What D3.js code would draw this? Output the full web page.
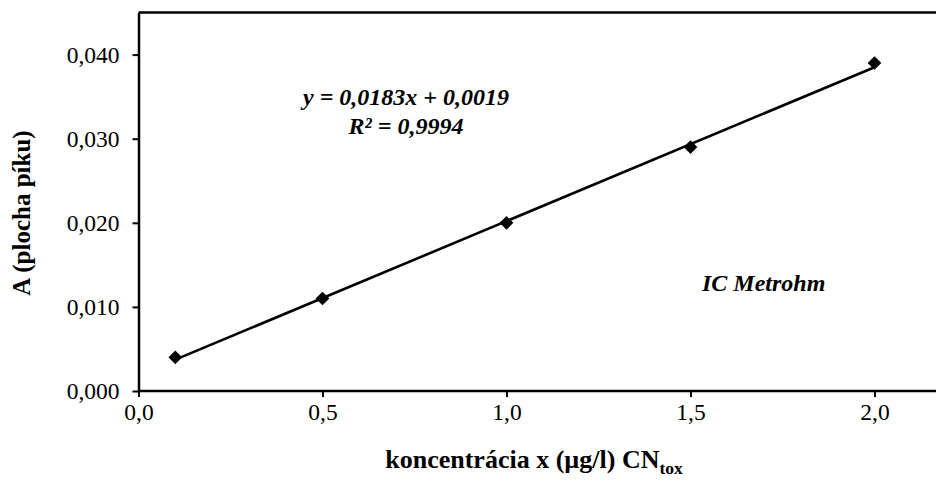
<!DOCTYPE html>
<html>
<head>
<meta charset="utf-8">
<script src="https://cdn.jsdelivr.net/npm/d3@7"></script>
<style>
  body { margin: 0; background: #fff; }
  svg { display: block; font-family: "Liberation Serif", "Times New Roman", serif; }
</style>
</head>
<body>
<div id="chart"></div>
<script>
// measured points (concentration, peak area)
var concentrations = [0.1, 0.5, 1.0, 1.5, 2.0];
var areas = [0.004, 0.011, 0.020, 0.029, 0.039];
// linear fit shown on the chart
var slope = 0.0183, intercept = 0.0019;
var xTicks = [0, 0.5, 1.0, 1.5, 2.0];
var yTicks = [0, 0.01, 0.02, 0.03, 0.04];

var W = 936, H = 485;
var left = 138.5, bottom = 391;

var svg = d3.select("#chart").append("svg")
  .attr("width", W).attr("height", H);

// plot runs past the right edge of the picture (cropped)
var x = d3.scaleLinear().domain([0, 2.5]).range([left, left + 2.5 * 368]);
var y = d3.scaleLinear().domain([0, 0.045]).range([bottom, bottom - 4.5 * 84.1]);

var fmtX = v => d3.format(".1f")(v).replace(".", ",");
var fmtY = v => d3.format(".3f")(v).replace(".", ",");

// frame top line
svg.append("line")
  .attr("x1", left).attr("x2", W)
  .attr("y1", y(0.045)).attr("y2", y(0.045))
  .attr("stroke", "#000").attr("stroke-width", 2.5);

var xAxis = svg.append("g")
  .attr("transform", "translate(0," + y(0) + ")")
  .call(d3.axisBottom(x).tickValues(xTicks).tickFormat(fmtX).tickSizeInner(6).tickSizeOuter(0).tickPadding(6));

var yAxis = svg.append("g")
  .attr("transform", "translate(" + x(0) + ",0)")
  .call(d3.axisLeft(y).tickValues(yTicks).tickFormat(fmtY).tickSizeInner(6).tickSizeOuter(0).tickPadding(13));

[xAxis, yAxis].forEach(function(a) {
  a.select(".domain").attr("stroke-width", 2.5);
  a.selectAll(".tick line").attr("stroke-width", 2);
  a.selectAll(".tick text")
    .style("font-family", "Liberation Serif")
    .style("font-size", "23.5px")
    .attr("fill", "#000");
});
xAxis.select(".domain").attr("d", "M" + x(0) + ",0H" + W);

// trend line
var fitLine = d3.line()
  .x(d => x(d))
  .y(d => y(slope * d + intercept));

svg.append("path")
  .datum([d3.min(concentrations), d3.max(concentrations)])
  .attr("fill", "none")
  .attr("stroke", "#000")
  .attr("stroke-width", 2.6)
  .attr("d", fitLine);

// markers
var diamond = d3.symbol().type(d3.symbolDiamond2).size(120);
svg.selectAll(".pt")
  .data(concentrations)
  .enter().append("path")
  .attr("class", "pt")
  .attr("transform", (d, i) => "translate(" + x(d) + "," + y(areas[i]) + ")")
  .attr("d", diamond)
  .attr("fill", "#000");

// equation
var eq = svg.append("text")
  .attr("text-anchor", "middle")
  .style("font-size", "24px")
  .style("font-weight", "bold")
  .style("font-style", "italic");
eq.append("tspan").attr("x", 406).attr("y", 105).text("y = 0,0183x + 0,0019");
eq.append("tspan").attr("x", 406).attr("y", 134).text("R² = 0,9994");

svg.append("text")
  .attr("x", 702).attr("y", 291)
  .style("font-size", "24px")
  .style("font-weight", "bold")
  .style("font-style", "italic")
  .text("IC Metrohm");

// axis titles
var xt = svg.append("text")
  .attr("x", 534).attr("y", 468)
  .attr("text-anchor", "middle")
  .style("font-size", "26px")
  .style("font-weight", "bold");
xt.append("tspan").text("koncentrácia x (µg/l) CN");
xt.append("tspan").attr("dy", 6).style("font-size", "17.5px").text("tox");

svg.append("text")
  .attr("transform", "translate(30,213) rotate(-90)")
  .attr("text-anchor", "middle")
  .style("font-size", "25px")
  .style("font-weight", "bold")
  .text("A (plocha píku)");
</script>
</body>
</html>
